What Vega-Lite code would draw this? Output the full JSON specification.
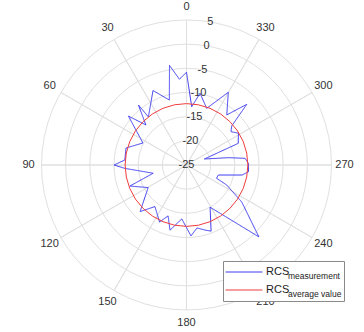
{
  "$schema": "https://vega.github.io/schema/vega-lite/v6.json",
  "width": 355,
  "height": 330,
  "padding": {"left": 9, "top": 0, "right": 0, "bottom": 2},
  "autosize": {"type": "none"},
  "background": "white",
  "config": {"view": {"stroke": null}, "font": "Liberation Sans"},
  "datasets": {
    "rings": [{"db": -20}, {"db": -15}, {"db": -10}, {"db": -5}, {"db": 0}, {"db": 5}],
    "spokes": [{"angle": 0}, {"angle": 30}, {"angle": 60}, {"angle": 90}, {"angle": 120}, {"angle": 150}, {"angle": 180}, {"angle": 210}, {"angle": 240}, {"angle": 270}, {"angle": 300}, {"angle": 330}],
    "rlabels": [{"db": -25, "label": "-25"}, {"db": -20, "label": "-20"}, {"db": -15, "label": "-15"}, {"db": -10, "label": "-10"}, {"db": -5, "label": "-5"}, {"db": 0, "label": "0"}, {"db": 5, "label": "5"}],
    "avg": [{"db": -12.3}],
    "meas": [
      {"i": 1, "angle": 0, "db": -5.8},
      {"i": 2, "angle": 4.7, "db": -7.2},
      {"i": 3, "angle": 9.7, "db": -4.1},
      {"i": 4, "angle": 14.8, "db": -11.1},
      {"i": 5, "angle": 24.2, "db": -8.1},
      {"i": 6, "angle": 38.4, "db": -12.3},
      {"i": 7, "angle": 38.7, "db": -9.1},
      {"i": 8, "angle": 45.4, "db": -13.2},
      {"i": 9, "angle": 49.9, "db": -9.3},
      {"i": 10, "angle": 63.2, "db": -14.9},
      {"i": 11, "angle": 74.3, "db": -12.0},
      {"i": 12, "angle": 85.4, "db": -12.2},
      {"i": 13, "angle": 90, "db": -10.0},
      {"i": 14, "angle": 93.1, "db": -12.2},
      {"i": 15, "angle": 103.9, "db": -17.9},
      {"i": 16, "angle": 110.4, "db": -12.5},
      {"i": 17, "angle": 120.5, "db": -15.8},
      {"i": 18, "angle": 135.1, "db": -11.4},
      {"i": 19, "angle": 142.8, "db": -14.2},
      {"i": 20, "angle": 154.7, "db": -11.95},
      {"i": 21, "angle": 160.1, "db": -13.8},
      {"i": 22, "angle": 165.8, "db": -11.1},
      {"i": 23, "angle": 175, "db": -13.8},
      {"i": 24, "angle": 183.6, "db": -10.3},
      {"i": 25, "angle": 189.5, "db": -11.8},
      {"i": 26, "angle": 195.9, "db": -11.0},
      {"i": 27, "angle": 200.4, "db": -10.4},
      {"i": 28, "angle": 209.2, "db": -15.0},
      {"i": 29, "angle": 225.2, "db": -3.9},
      {"i": 30, "angle": 236.2, "db": -11.25},
      {"i": 31, "angle": 243.5, "db": -15.7},
      {"i": 32, "angle": 246.2, "db": -18.2},
      {"i": 33, "angle": 252.5, "db": -18.1},
      {"i": 34, "angle": 259.8, "db": -13.3},
      {"i": 35, "angle": 263.8, "db": -12.1},
      {"i": 36, "angle": 271.6, "db": -12.2},
      {"i": 37, "angle": 276.5, "db": -12.8},
      {"i": 38, "angle": 279.9, "db": -16.2},
      {"i": 39, "angle": 288.6, "db": -21.1},
      {"i": 40, "angle": 292.7, "db": -13.4},
      {"i": 41, "angle": 301.5, "db": -12.4},
      {"i": 42, "angle": 306.8, "db": -13.5},
      {"i": 43, "angle": 310.8, "db": -12.65},
      {"i": 44, "angle": 315.2, "db": -7.3},
      {"i": 45, "angle": 321.2, "db": -11.7},
      {"i": 46, "angle": 330.1, "db": -7.65},
      {"i": 47, "angle": 340.4, "db": -12.55},
      {"i": 48, "angle": 349.3, "db": -9.9},
      {"i": 49, "angle": 354.9, "db": -12.9},
      {"i": 50, "angle": 360, "db": -5.8}
    ]
  },
  "layer": [
    {
      "data": {"name": "rings"},
      "mark": {"type": "arc", "theta": 0, "theta2": 6.2832, "fillOpacity": 0, "stroke": "#e0e0e0", "strokeWidth": 1},
      "encoding": {
        "radius": {"field": "db", "type": "quantitative", "stack": null, "scale": {"type": "linear", "domain": [-25, 5], "range": [0, 145], "zero": false, "nice": false}},
        "radius2": {"datum": -25}
      }
    },
    {
      "data": {"name": "spokes"},
      "mark": {"type": "arc", "fillOpacity": 0, "stroke": "#e0e0e0", "strokeWidth": 1},
      "encoding": {
        "theta": {"field": "angle", "type": "quantitative", "stack": null, "scale": {"domain": [0, 360], "range": [6.2832, 0], "zero": false, "nice": false}},
        "theta2": {"field": "angle"},
        "radius": {"datum": 5, "type": "quantitative"},
        "radius2": {"datum": -25}
      }
    },
    {
      "data": {"name": "spokes"},
      "mark": {"type": "text", "radiusOffset": 13, "fontSize": 11, "color": "#333333", "align": "center", "baseline": "middle"},
      "encoding": {
        "theta": {"field": "angle", "type": "quantitative", "stack": null},
        "radius": {"datum": 5, "type": "quantitative"},
        "text": {"field": "angle", "type": "quantitative", "format": "d"}
      }
    },
    {
      "data": {"name": "rlabels"},
      "mark": {"type": "text", "fontSize": 11, "color": "#333333", "align": "center", "baseline": "middle"},
      "encoding": {
        "theta": {"datum": 350.5, "type": "quantitative"},
        "radius": {"field": "db", "type": "quantitative", "stack": null},
        "text": {"field": "label", "type": "nominal"}
      }
    },
    {
      "data": {"name": "meas"},
      "transform": [
        {"calculate": "-(datum.db + 25) * sin(datum.angle * PI / 180)", "as": "x"},
        {"calculate": "(datum.db + 25) * cos(datum.angle * PI / 180)", "as": "y"}
      ],
      "mark": {"type": "line", "strokeWidth": 1},
      "encoding": {
        "x": {"field": "x", "type": "quantitative", "axis": null, "scale": {"domain": [-36.724, 36.724], "nice": false, "zero": false}},
        "y": {"field": "y", "type": "quantitative", "axis": null, "scale": {"domain": [-34.138, 34.138], "nice": false, "zero": false}},
        "order": {"field": "i", "type": "quantitative"},
        "stroke": {
          "datum": "measurement", "type": "nominal",
          "scale": {"domain": ["measurement", "average value"], "range": ["#3c3cf0", "#f03c3c"]},
          "legend": {"orient": "none", "legendX": 214, "legendY": 261, "title": null, "symbolType": "stroke", "symbolSize": 1369, "symbolStrokeWidth": 1, "clipHeight": 18, "labelFontSize": 8.5, "labelOffset": 25, "labelBaseline": "top", "padding": 2, "rowPadding": 0, "strokeColor": "#8a8a8a", "fillColor": "white", "labelColor": "#222222", "labelFont": "Liberation Sans"}
        },
        "strokeDash": {
          "datum": "RCS_m", "type": "nominal",
          "scale": {"domain": ["RCS_m", "RCS_a"], "range": [[1, 0], [1, 0]]},
          "legend": {"orient": "none", "legendX": 214, "legendY": 261, "title": null, "symbolType": "stroke", "symbolSize": 1369, "symbolOpacity": 0, "clipHeight": 18, "labelFontSize": 11, "labelOffset": 2, "labelBaseline": "middle", "padding": 2, "rowPadding": 0, "labelExpr": "'RCS'", "labelColor": "#222222", "labelFont": "Liberation Sans"}
        }
      }
    },
    {
      "data": {"name": "avg"},
      "mark": {"type": "arc", "theta": 0, "theta2": 6.2832, "fillOpacity": 0, "strokeWidth": 1},
      "encoding": {
        "radius": {"field": "db", "type": "quantitative", "stack": null},
        "radius2": {"datum": -25},
        "stroke": {"datum": "average value", "type": "nominal"},
        "strokeDash": {"datum": "RCS_a", "type": "nominal"}
      }
    }
  ]
}
